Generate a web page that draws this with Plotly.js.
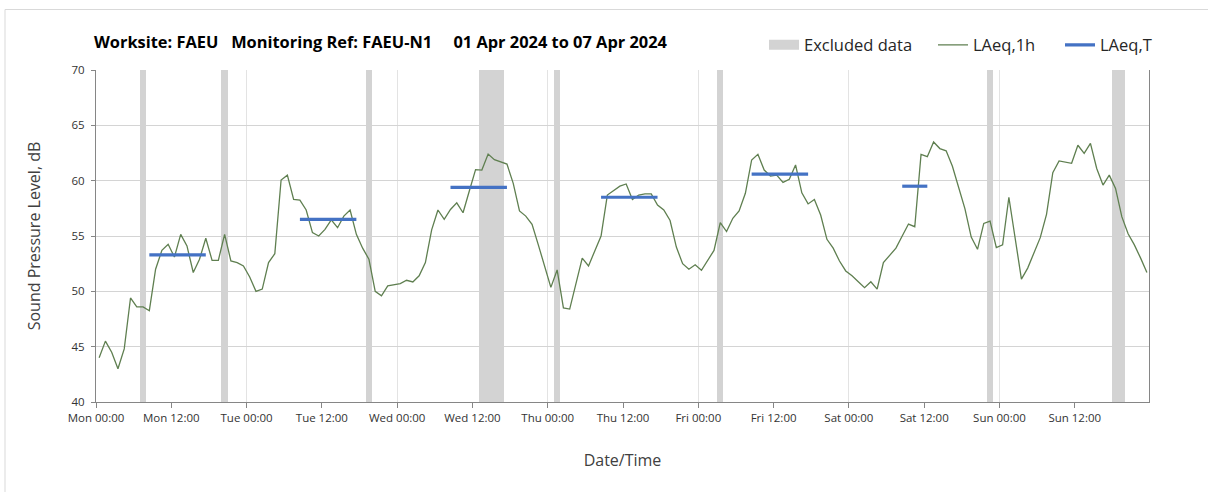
<!DOCTYPE html>
<html><head><meta charset="utf-8">
<script src="https://cdn.plot.ly/plotly-3.0.1.min.js"></script>
<style>html,body{margin:0;padding:0;background:#fff}#chart{width:1208px;height:492px}</style>
</head><body><div id="chart"></div><script>
// ---- data ----
const weekStart = '2024-04-01 00:00';
// hourly LAeq,1h values (each hour, plotted at mid-hour), Mon 00:00 .. Sun 23:00
const laeq1h = [
  44.0, 45.5, 44.5, 43.0, 44.8, 49.4, 48.6, 48.6, 48.25, 52.0,
  53.7, 54.25, 53.1, 55.15, 54.1, 51.7, 52.9, 54.8, 52.8, 52.8,
  55.15, 52.75, 52.6, 52.3, 51.3, 50.0, 50.2, 52.6, 53.4, 60.06,
  60.5, 58.3, 58.25, 57.35, 55.3, 55.0, 55.6, 56.45, 55.75, 56.8,
  57.35, 55.15, 53.9, 52.9, 50.0, 49.6, 50.5, 50.6, 50.7, 51.0,
  50.85, 51.4, 52.6, 55.55, 57.35, 56.5, 57.4, 58.0, 57.1, 59.07,
  61.0, 60.96, 62.4, 61.9, 61.7, 61.5, 59.76, 57.26, 56.8, 56.05,
  54.2, 52.2, 50.36, 51.93, 48.5, 48.4, 50.7, 53.0, 52.3, 53.6,
  55.0, 58.7, 59.1, 59.5, 59.7, 58.3, 58.7, 58.8, 58.8, 57.8,
  57.35, 56.4, 54.0, 52.5, 52.0, 52.4, 51.9, 52.8, 53.7, 56.2,
  55.4, 56.6, 57.26, 58.86, 61.87, 62.38, 60.96, 60.42, 60.5, 59.85,
  60.12, 61.42, 58.9, 57.9, 58.3, 56.9, 54.7, 53.9, 52.74, 51.84,
  51.4, 50.87, 50.33, 50.87, 50.2, 52.6, 53.3, 53.9, 55.0, 56.08,
  55.84, 62.38, 62.17, 63.5, 62.9, 62.7, 61.3, 59.4, 57.45, 54.9,
  53.8, 56.14, 56.35, 53.95, 54.2, 58.5, 54.8, 51.1, 52.1, 53.43,
  54.85, 56.96, 60.72, 61.78, 61.7, 61.57, 63.2, 62.47, 63.37, 61.1,
  59.6, 60.5, 59.3, 56.75, 55.2, 54.2, 53.0, 51.7
];
// excluded periods
const exclStart = ['2024-04-01 07:00','2024-04-01 20:00','2024-04-02 19:00','2024-04-03 13:00',
                   '2024-04-04 01:00','2024-04-05 03:00','2024-04-06 22:00','2024-04-07 18:00'];
const exclHours = [1, 1, 1, 4, 1, 1, 1, 2];
// LAeq,T periods
const periodStart = ['2024-04-01 08:30','2024-04-02 08:30','2024-04-03 08:30','2024-04-04 08:30','2024-04-05 08:30','2024-04-06 08:30'];
const periodEnd   = ['2024-04-01 17:30','2024-04-02 17:30','2024-04-03 17:30','2024-04-04 17:30','2024-04-05 17:30','2024-04-06 12:30'];
const laeqT = [53.3, 56.5, 59.4, 58.5, 60.6, 59.5];
const yRange = [40, 70];
const xRange = ['2024-04-01 00:00', '2024-04-07 23:50'];

// ---- helpers ----
const HOUR = 3600000;
function toMs(s){ const [d,t]=s.split(' '); const [Y,M,D]=d.split('-').map(Number); const [h,m]=t.split(':').map(Number); return Date.UTC(Y,M-1,D,h,m); }
function fmt(ms){ const d=new Date(ms); const p=n=>String(n).padStart(2,'0');
  return d.getUTCFullYear()+'-'+p(d.getUTCMonth()+1)+'-'+p(d.getUTCDate())+' '+p(d.getUTCHours())+':'+p(d.getUTCMinutes()); }

const t0 = toMs(weekStart);
const xs1h = laeq1h.map((_, i) => fmt(t0 + (i + 0.5) * HOUR));

const tx = [], ty = [];
laeqT.forEach((v, i) => { tx.push(periodStart[i], periodEnd[i], null); ty.push(v, v, null); });

const traces = [
  // excluded bands on main subplot (below the lines)
  { type: 'bar', name: 'Excluded data', x: exclStart, y: exclStart.map(() => yRange[1] - yRange[0]),
    base: yRange[0], width: exclHours.map(h => h * HOUR), offset: 0, xaxis: 'x', yaxis: 'y',
    marker: { color: '#d3d3d3', line: { width: 0 } }, hoverinfo: 'skip', showlegend: false },
  // legend entry for excluded data (wide grey swatch)
  { type: 'scatter', mode: 'lines', name: 'Excluded data', x: [null], y: [null], xaxis: 'x2', yaxis: 'y',
    line: { color: '#d3d3d3', width: 12 }, legend: 'legend' },
  { type: 'scatter', mode: 'lines', name: 'LAeq,1h', x: xs1h, y: laeq1h, xaxis: 'x2', yaxis: 'y',
    line: { color: '#5f7f50', width: 1.3 }, legend: 'legend2' },
  { type: 'scatter', mode: 'lines', name: 'LAeq,T', x: tx, y: ty, connectgaps: false, xaxis: 'x2', yaxis: 'y',
    line: { color: '#4472c4', width: 3.2 }, legend: 'legend3' }
];

const FONT = '"Open Sans", Lato, sans-serif';
const sp = n => '\u00a0'.repeat(n);
const legendBase = { orientation: 'h', xanchor: 'left', y: 1.075, yanchor: 'middle',
  font: { family: FONT, size: 16.5, color: '#262626' }, bgcolor: 'rgba(0,0,0,0)', itemwidth: 30 };
const layout = {
  width: 1208, height: 492,
  margin: { l: 96, r: 59, t: 70, b: 90 },
  paper_bgcolor: '#fff', plot_bgcolor: '#fff',
  font: { family: FONT, color: '#404040' },
  showlegend: true,
  bargap: 0,
  title: { text: '<b>Worksite: FAEU' + sp(3) + 'Monitoring Ref: FAEU-N1' + sp(5) + '01 Apr 2024 to 07 Apr 2024</b>',
    font: { family: FONT, size: 16.4, color: '#000' }, xref: 'container', x: 94/1208, xanchor: 'left',
    yref: 'container', y: 1 - 42/492, yanchor: 'middle' },
  legend: Object.assign({}, legendBase, { x: (764 - 96) / 1053 }),
  legend2: Object.assign({}, legendBase, { x: (933 - 96) / 1053 }),
  legend3: Object.assign({}, legendBase, { x: (1060 - 96) / 1053 }),
  // main x axis: daily vertical gridlines
  xaxis: { type: 'date', range: xRange, dtick: 24 * HOUR, tick0: weekStart,
    showgrid: true, gridcolor: '#e3e3e3', gridwidth: 1, showticklabels: false, ticks: '', showline: false, zeroline: false },
  // overlay x axis: 12-hour ticks and labels
  xaxis2: { type: 'date', overlaying: 'x', matches: 'x', anchor: 'y', side: 'bottom', range: xRange,
    dtick: 12 * HOUR, tick0: weekStart, tickformat: '%a %H:%M',
    ticks: 'outside', ticklen: 5, tickcolor: '#868686', showline: true, linecolor: '#868686',
    showgrid: false, zeroline: false, tickfont: { family: FONT, size: 11.5, color: '#333' },
    title: { text: 'Date/Time', font: { family: FONT, size: 16, color: '#404040' }, standoff: 31 } },
  yaxis: { range: yRange, dtick: 5, ticks: 'outside', ticklen: 4, tickcolor: '#868686', showline: true, linecolor: '#868686',
    mirror: true, ticklabelstandoff: 4,
    showgrid: true, gridcolor: '#d4d4d4', zeroline: false, tickfont: { family: FONT, size: 11.5, color: '#333' },
    title: { text: 'Sound Pressure Level, dB', font: { family: FONT, size: 16, color: '#404040' }, standoff: 26 } },
  shapes: [ { type: 'rect', xref: 'paper', yref: 'paper', x0: (5 - 96) / 1053, x1: (1230 - 96) / 1053,
    y0: (402 - 520) / 332, y1: (402 - 9.5) / 332,
    line: { color: '#d9d9d9', width: 1 }, fillcolor: 'rgba(0,0,0,0)', layer: 'below' } ]
};

Plotly.newPlot('chart', traces, layout, { displayModeBar: false, staticPlot: true });
</script></body></html>
